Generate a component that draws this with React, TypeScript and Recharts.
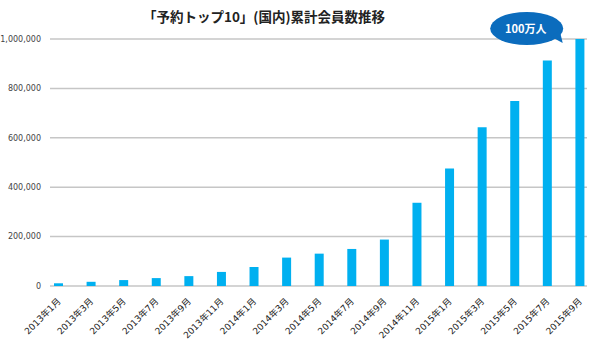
import { BarChart, Bar, XAxis, YAxis, CartesianGrid, ReferenceDot } from 'recharts';

const months = [
    '2013年1月', '2013年3月', '2013年5月', '2013年7月', '2013年9月', '2013年11月',
    '2014年1月', '2014年3月', '2014年5月', '2014年7月', '2014年9月', '2014年11月',
    '2015年1月', '2015年3月', '2015年5月', '2015年7月', '2015年9月',
];
const members = [
    11000, 17000, 24000, 32000, 40000, 57000,
    77000, 115000, 131000, 150000, 188000, 337000,
    476000, 643000, 749000, 913000, 1000000,
];
const yTicks = [0, 200000, 400000, 600000, 800000, 1000000];
const title = '「予約トップ10」(国内)累計会員数推移';
const bubbleText = '100万人';

const data = months.map((m, i) => ({ month: m, value: members[i] }));

const fmt = (v: number) => v.toLocaleString('en-US');

// rotated month labels under the axis
const MonthTick = (props: any) => {
    const { x, y, payload } = props;
    return (
        <text
            transform={`translate(${x + 3},${y + 8}) rotate(-45)`}
            textAnchor="end"
            fontSize={9}
            fill="#222"
            fontFamily="'DejaVu Sans', 'Noto Sans CJK JP', sans-serif"
        >
            {payload.value}
        </text>
    );
};

// grid lines are a bit shorter than the band range
const GridLine = (props: any) => {
    const { x1, x2, y1, y2 } = props;
    return <line x1={x1 + 8} x2={x2 - 9} y1={y1} y2={y2} stroke="#c6c6c6" strokeWidth={1.5} />;
};

// speech bubble pointing at the last bar
const Bubble = (props: any) => {
    const { cx, cy } = props;
    const ex = cx - 53;
    const ey = cy - 10.5;
    return (
        <g>
            <ellipse cx={ex} cy={ey} rx={36.5} ry={16.5} fill="#0b6cbd" />
            <path d={`M${ex + 24} ${ey + 8} L${cx - 17} ${cy + 4} L${ex + 33} ${ey + 2} Z`} fill="#0b6cbd" />
            <text
                x={ex - 1}
                y={ey + 4}
                textAnchor="middle"
                fill="#fff"
                fontSize={11}
                fontWeight="bold"
                fontFamily="'Noto Sans CJK JP', sans-serif"
            >
                {bubbleText}
            </text>
        </g>
    );
};

export default function App() {
    return (
        <div style={{ position: 'absolute', left: 0, top: 0, width: 600, height: 350, background: '#fff' }}>
            <div
                style={{
                    position: 'absolute',
                    left: 0,
                    width: 528,
                    top: 6,
                    textAlign: 'center',
                    fontFamily: "'Noto Sans CJK JP', sans-serif",
                    fontWeight: 'bold',
                    fontSize: 13.5,
                    color: '#222',
                }}
            >
                {title}
            </div>
            <BarChart
                width={600}
                height={350}
                data={data}
                margin={{ top: 39, right: 4, left: 0, bottom: 4 }}
                barCategoryGap={0}
            >
                <CartesianGrid vertical={false} horizontal={GridLine} />
                <XAxis
                    dataKey="month"
                    interval={0}
                    axisLine={false}
                    tickLine={false}
                    height={60}
                    tick={MonthTick}
                />
                <YAxis
                    width={42}
                    domain={[0, 1000000]}
                    ticks={yTicks}
                    axisLine={false}
                    tickLine={false}
                    tickSize={0}
                    tickMargin={1}
                    tickFormatter={fmt}
                    tick={{ fontSize: 8, fill: '#444', fontFamily: 'DejaVu Sans' }}
                />
                <Bar dataKey="value" fill="#00b0f0" barSize={9} isAnimationActive={false} />
                <ReferenceDot
                    x={months[months.length - 1]}
                    y={members[members.length - 1]}
                    shape={Bubble}
                    ifOverflow="visible"
                />
            </BarChart>
        </div>
    );
}
